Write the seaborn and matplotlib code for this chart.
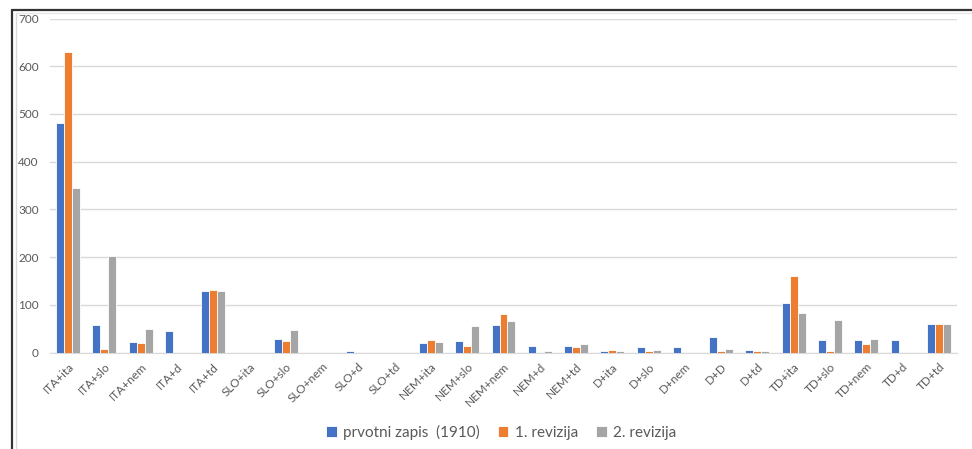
import pandas as pd
import matplotlib
matplotlib.use("Agg")
import matplotlib.pyplot as plt
import seaborn as sns
import numpy as np
from matplotlib.lines import Line2D

categories = ['ITA+ita', 'ITA+slo', 'ITA+nem', 'ITA+d', 'ITA+td',
              'SLO+ita', 'SLO+slo', 'SLO+nem', 'SLO+d', 'SLO+td',
              'NEM+ita', 'NEM+slo', 'NEM+nem', 'NEM+d', 'NEM+td',
              'D+ita', 'D+slo', 'D+nem', 'D+D', 'D+td',
              'TD+ita', 'TD+slo', 'TD+nem', 'TD+d', 'TD+td']
prvotni = [480, 58, 23, 45, 128, 0, 28, 0, 3, 0, 20, 25, 58, 13, 13,
           3, 11, 11, 33, 6, 103, 26, 26, 26, 60]
revizija1 = [630, 8, 19, 0, 132, 0, 24, 0, 0, 0, 26, 13, 81, 0, 11,
             5, 4, 0, 4, 4, 160, 3, 17, 0, 60]
revizija2 = [344, 202, 50, 0, 128, 0, 48, 0, 0, 0, 22, 56, 65, 3, 17,
             3, 6, 0, 8, 4, 83, 69, 29, 0, 60]
series = ['prvotni zapis  (1910)', '1. revizija', '2. revizija']
colors = ['#4472C4', '#ED7D31', '#A5A5A5']

df = pd.DataFrame({'kat': categories * 3,
                   'serija': np.repeat(series, len(categories)),
                   'vrednost': prvotni + revizija1 + revizija2})
df['vrednost'] = df['vrednost'].replace(0, np.nan)  # empty cells draw nothing

sns.set_style('white')
plt.rcParams['font.family'] = ['Lato', 'DejaVu Sans']

fig = plt.figure(figsize=(9.72, 4.49), dpi=100)
ax = fig.add_axes([50 / 972, 1 - 352.5 / 449, 907 / 972, 334 / 449])

sns.barplot(data=df, x='kat', y='vrednost', hue='serija', order=categories,
            hue_order=series, palette=colors, width=0.66, saturation=1,
            edgecolor='white', linewidth=0.6, ax=ax, zorder=3)

ax.set_ylim(0, 700)
ax.set_yticks(range(0, 701, 100))
ax.set_xlim(-0.5, len(categories) - 0.5)
ax.yaxis.grid(True, color='#D9D9D9', linewidth=1, zorder=0)
ax.set_axisbelow(True)
sns.despine(ax=ax, left=True, top=True, right=True, bottom=False)
ax.spines['bottom'].set_color('#D9D9D9')
ax.tick_params(axis='both', length=0, colors='#595959', labelsize=8.5)
ax.tick_params(axis='y', pad=8)
ax.tick_params(axis='x', pad=6)
plt.setp(ax.get_xticklabels(), rotation=45, ha='right', rotation_mode='anchor')
ax.set_xlabel('')
ax.set_ylabel('')

ax.legend(loc='center', bbox_to_anchor=(501 / 972, 1 - 432 / 449), bbox_transform=fig.transFigure,
          ncol=3, frameon=False, fontsize=11, handlelength=0.7, handleheight=0.7,
          handletextpad=0.4, columnspacing=1.2, labelcolor='#595959')

# outer frame like the pasted chart
fig.add_artist(Line2D([11.5 / 972, 11.5 / 972], [0, 1 - 9.5 / 449], color='#333333', lw=1.6))
fig.add_artist(Line2D([11.5 / 972, 1], [1 - 9.5 / 449, 1 - 9.5 / 449], color='#333333', lw=1.6))
fig.add_artist(Line2D([16 / 972, 16 / 972], [0, 1 - 12.5 / 449], color='#D9D9D9', lw=1))
fig.add_artist(Line2D([16 / 972, 1], [1 - 12.5 / 449, 1 - 12.5 / 449], color='#E6E6E6', lw=1))

fig.savefig('out.png', dpi=100)
